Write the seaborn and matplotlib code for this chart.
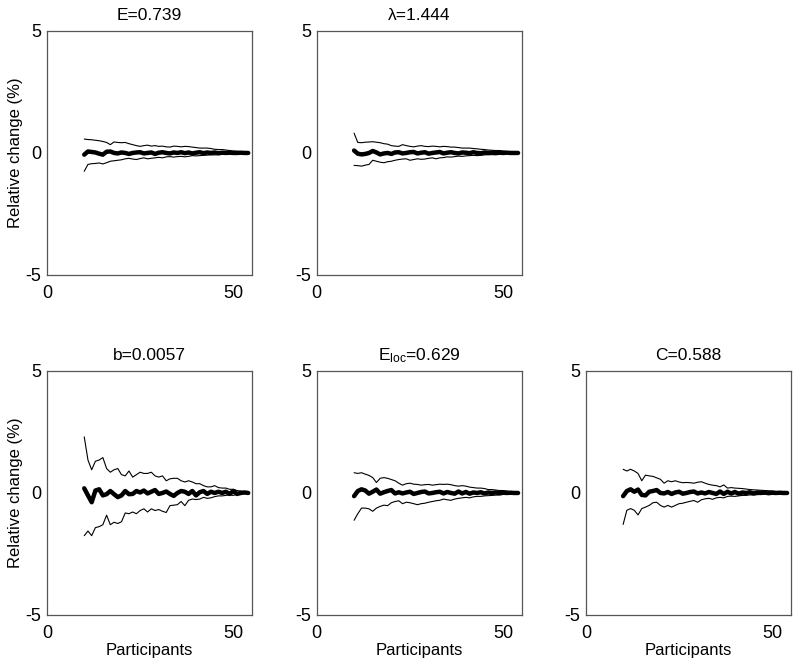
import numpy as np
import pandas as pd
import matplotlib
matplotlib.use("Agg")
import matplotlib.pyplot as plt
import seaborn as sns

participants = list(range(10, 55))

titles = ["E=0.739", "λ=1.444", "b=0.0057", r"E$_{loc}$=0.629", "C=0.588"]

E_mean = [-0.07,0.06,0.04,0.02,-0.03,-0.07,0.05,0.06,0.0,-0.02,0.02,0.0,-0.04,0.0,0.02,0.03,-0.02,0.0,0.02,-0.04,0.01,0.03,0.0,-0.02,0.02,0.0,0.03,-0.01,0.02,-0.02,0.01,0.03,-0.01,0.02,0.0,0.02,-0.01,0.01,0.0,0.01,0.0,0.0,0.01,0.0,0.0]
E_upper = [0.57,0.55,0.54,0.52,0.5,0.47,0.43,0.34,0.45,0.43,0.42,0.43,0.38,0.34,0.3,0.27,0.3,0.32,0.28,0.3,0.27,0.28,0.25,0.24,0.28,0.27,0.25,0.27,0.26,0.24,0.22,0.2,0.2,0.2,0.18,0.15,0.14,0.14,0.12,0.1,0.08,0.07,0.05,0.03,0.0]
E_lower = [-0.75,-0.47,-0.44,-0.43,-0.41,-0.45,-0.4,-0.34,-0.32,-0.3,-0.28,-0.24,-0.22,-0.25,-0.27,-0.23,-0.2,-0.24,-0.22,-0.2,-0.18,-0.2,-0.16,-0.15,-0.17,-0.15,-0.14,-0.16,-0.14,-0.11,-0.12,-0.11,-0.1,-0.09,-0.08,-0.08,-0.07,-0.06,-0.05,-0.05,-0.04,-0.03,-0.02,-0.01,0.0]

L_mean = [0.1,-0.03,-0.06,-0.04,0.0,0.08,0.02,-0.06,-0.02,0.0,-0.04,0.02,0.03,-0.02,0.0,0.03,0.04,-0.02,0.01,0.03,-0.03,0.0,0.02,0.04,-0.02,0.01,0.03,0.0,-0.02,0.02,0.01,-0.01,0.03,0.0,-0.01,0.02,0.0,0.01,-0.01,0.01,0.0,0.01,0.0,0.0,0.0]
L_upper = [0.81,0.43,0.42,0.44,0.45,0.46,0.44,0.42,0.38,0.36,0.3,0.28,0.27,0.34,0.3,0.27,0.25,0.28,0.3,0.27,0.26,0.28,0.27,0.25,0.27,0.26,0.24,0.24,0.22,0.2,0.2,0.2,0.18,0.17,0.15,0.14,0.12,0.11,0.1,0.1,0.08,0.06,0.05,0.03,0.0]
L_lower = [-0.51,-0.52,-0.54,-0.5,-0.47,-0.3,-0.34,-0.38,-0.4,-0.36,-0.34,-0.3,-0.27,-0.25,-0.24,-0.3,-0.27,-0.24,-0.26,-0.25,-0.22,-0.2,-0.24,-0.2,-0.19,-0.16,-0.17,-0.15,-0.13,-0.14,-0.12,-0.11,-0.1,-0.11,-0.1,-0.08,-0.07,-0.07,-0.06,-0.05,-0.04,-0.03,-0.02,-0.01,0.0]

B_mean = [0.19,-0.1,-0.38,0.1,0.15,-0.1,-0.05,0.08,-0.05,-0.17,-0.1,0.08,-0.05,-0.04,0.08,0.02,0.1,-0.02,0.05,0.12,-0.04,0.0,0.06,-0.04,-0.12,0.0,0.08,0.05,-0.04,0.08,-0.1,0.03,0.08,-0.04,0.05,0.0,0.05,0.0,0.05,-0.04,0.08,-0.04,0.0,0.02,0.0]
B_upper = [2.3,1.35,0.95,1.3,1.35,1.45,1.0,0.85,0.95,1.0,0.75,0.7,0.9,0.65,0.75,0.85,0.8,0.8,0.85,0.7,0.65,0.7,0.5,0.58,0.6,0.6,0.5,0.45,0.5,0.45,0.38,0.38,0.3,0.25,0.25,0.3,0.22,0.2,0.2,0.15,0.15,0.1,0.08,0.05,0.0]
B_lower = [-1.75,-1.56,-1.75,-1.42,-1.38,-1.3,-0.91,-1.3,-1.2,-1.25,-1.18,-0.82,-0.85,-0.78,-0.85,-0.72,-0.65,-0.78,-0.65,-0.72,-0.68,-0.75,-0.8,-0.52,-0.5,-0.48,-0.35,-0.52,-0.3,-0.25,-0.27,-0.25,-0.18,-0.22,-0.2,-0.15,-0.12,-0.12,-0.1,-0.08,-0.1,-0.05,-0.04,-0.02,0.0]

Eloc_mean = [-0.13,0.08,0.15,0.1,-0.03,0.05,0.14,-0.03,0.03,0.08,0.12,-0.02,0.03,-0.02,0.02,0.05,-0.04,0.0,0.04,0.06,-0.02,0.0,0.03,0.05,-0.02,0.04,0.0,-0.03,0.06,-0.02,0.04,-0.03,0.02,0.0,0.03,-0.02,0.02,0.0,0.02,-0.01,0.01,0.0,0.01,0.0,0.0]
Eloc_upper = [0.83,0.8,0.83,0.77,0.72,0.63,0.43,0.6,0.63,0.6,0.55,0.5,0.4,0.32,0.38,0.4,0.36,0.35,0.32,0.34,0.35,0.32,0.34,0.36,0.35,0.36,0.34,0.3,0.28,0.3,0.28,0.24,0.22,0.2,0.2,0.18,0.14,0.14,0.12,0.1,0.1,0.08,0.05,0.03,0.0]
Eloc_lower = [-1.12,-0.85,-0.62,-0.62,-0.65,-0.75,-0.62,-0.55,-0.5,-0.52,-0.4,-0.35,-0.32,-0.44,-0.38,-0.4,-0.44,-0.48,-0.44,-0.42,-0.38,-0.35,-0.32,-0.3,-0.25,-0.28,-0.3,-0.25,-0.22,-0.2,-0.18,-0.2,-0.16,-0.14,-0.14,-0.12,-0.11,-0.1,-0.09,-0.08,-0.06,-0.05,-0.03,-0.02,0.0]

C_mean = [-0.13,0.08,0.15,0.05,0.14,-0.08,-0.1,0.05,0.08,0.12,0.0,-0.02,0.04,-0.04,0.02,0.05,-0.03,0.0,0.04,0.06,-0.02,0.02,-0.02,0.04,0.0,-0.04,0.06,-0.04,0.05,-0.02,0.04,-0.03,0.02,0.0,0.03,-0.02,0.02,0.0,0.02,-0.01,0.01,0.0,0.01,0.0,0.0]
C_upper = [0.97,0.9,0.97,0.9,0.8,0.5,0.73,0.7,0.68,0.62,0.56,0.4,0.5,0.46,0.5,0.45,0.42,0.43,0.42,0.4,0.44,0.46,0.4,0.35,0.32,0.3,0.25,0.33,0.2,0.22,0.2,0.19,0.18,0.16,0.14,0.13,0.12,0.11,0.1,0.09,0.08,0.06,0.04,0.02,0.0]
C_lower = [-1.29,-0.71,-0.64,-0.71,-0.9,-0.64,-0.58,-0.51,-0.4,-0.38,-0.51,-0.58,-0.51,-0.58,-0.51,-0.44,-0.42,-0.38,-0.34,-0.31,-0.38,-0.28,-0.24,-0.22,-0.26,-0.2,-0.18,-0.2,-0.14,-0.13,-0.14,-0.12,-0.1,-0.1,-0.08,-0.08,-0.07,-0.06,-0.05,-0.04,-0.03,-0.02,-0.02,-0.01,0.0]

panels = [
    (E_mean, E_upper, E_lower),
    (L_mean, L_upper, L_lower),
    (B_mean, B_upper, B_lower),
    (Eloc_mean, Eloc_upper, Eloc_lower),
    (C_mean, C_upper, C_lower),
]

sns.set_style("white")
plt.rcParams['font.family'] = ['Liberation Sans', 'DejaVu Sans']
plt.rcParams['mathtext.default'] = 'regular'
plt.rcParams['text.color'] = 'black'
plt.rcParams['axes.labelcolor'] = 'black'

fig = plt.figure(figsize=(7.96, 6.65), dpi=100)

lefts = [0.059, 0.398, 0.736]
w, h = 0.2575, 0.367
bottoms = [0.5865, 0.0752]
positions = [(lefts[0], bottoms[0]), (lefts[1], bottoms[0]),
             (lefts[0], bottoms[1]), (lefts[1], bottoms[1]), (lefts[2], bottoms[1])]

for i, ((m, u, l), (x0, y0)) in enumerate(zip(panels, positions)):
    ax = fig.add_axes([x0, y0, w, h])
    df = pd.DataFrame({"Participants": participants, "mean": m, "upper": u, "lower": l})
    sns.lineplot(data=df, x="Participants", y="upper", ax=ax, color="black", linewidth=0.8)
    sns.lineplot(data=df, x="Participants", y="lower", ax=ax, color="black", linewidth=0.8)
    sns.lineplot(data=df, x="Participants", y="mean", ax=ax, color="black", linewidth=3.2)
    ax.set_xlim(0, 55)
    ax.set_ylim(-5, 5)
    ax.set_xticks([0, 50])
    ax.set_yticks([-5, 0, 5])
    ax.set_yticklabels(["-5", "0", "5"])
    ax.tick_params(direction="in", length=3, labelsize=13, width=0.6, color="#555555",
                   labelcolor="black", top=False, right=False)
    ax.tick_params(axis="x", pad=7)
    ax.tick_params(axis="y", pad=4)
    for s in ax.spines.values():
        s.set_visible(True)
        s.set_color("#555555")
        s.set_linewidth(0.9)
    ax.set_title(titles[i], fontsize=12.5, pad=8, color="black")
    if i in (0, 2):
        ax.set_ylabel("Relative change (%)", fontsize=12, labelpad=2)
    else:
        ax.set_ylabel("")
    if i >= 2:
        ax.set_xlabel("Participants", fontsize=12, labelpad=1)
    else:
        ax.set_xlabel("")

fig.savefig("out.png", dpi=100)
